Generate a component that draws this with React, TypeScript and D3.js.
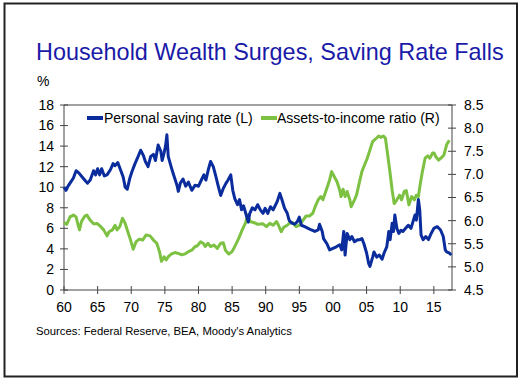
import React from "react";
import * as d3 from "d3";

const TITLE = "Household Wealth Surges, Saving Rate Falls";
const SOURCE = "Sources: Federal Reserve, BEA, Moody's Analytics";

const xTickYears = [1960, 1965, 1970, 1975, 1980, 1985, 1990, 1995, 2000, 2005, 2010, 2015];
const xTickLabels = ["60", "65", "70", "75", "80", "85", "90", "95", "00", "05", "10", "15"];
const leftTicks = [0, 2, 4, 6, 8, 10, 12, 14, 16, 18];
const rightTicks = [4.5, 5.0, 5.5, 6.0, 6.5, 7.0, 7.5, 8.0, 8.5];

const savingYears = [
  1960.0, 1960.3, 1960.6, 1960.9, 1961.4, 1961.8, 1962.2, 1962.7, 1963.2, 1963.5, 1963.9, 1964.4, 1964.7,
  1965.0, 1965.3, 1965.6, 1966.0, 1966.4, 1966.9, 1967.3, 1967.6, 1968.0, 1968.4, 1968.8, 1969.1, 1969.4,
  1969.8, 1970.1, 1970.5, 1970.9, 1971.4, 1971.8, 1972.1, 1972.5, 1972.9, 1973.3, 1973.6, 1974.0, 1974.4,
  1974.6, 1974.9, 1975.1, 1975.3, 1975.5, 1975.8, 1976.2, 1976.8, 1977.0, 1977.3, 1977.7, 1978.1, 1978.5,
  1979.0, 1979.5, 1980.0, 1980.5, 1980.8, 1981.1, 1981.5, 1981.8, 1982.2, 1982.6, 1982.9, 1983.3, 1983.7,
  1984.1, 1984.4, 1984.8, 1985.1, 1985.4, 1985.8, 1986.1, 1986.4, 1986.7, 1987.1, 1987.4, 1987.6, 1988.0,
  1988.4, 1988.8, 1989.2, 1989.6, 1989.9, 1990.3, 1990.7, 1991.1, 1991.4, 1991.7, 1992.1, 1992.4, 1992.8,
  1993.2, 1993.5, 1993.9, 1994.3, 1994.7, 1995.0, 1995.3, 1995.8, 1996.3, 1996.8, 1997.3, 1997.8, 1998.0,
  1998.4, 1998.6, 1999.1, 1999.5, 2000.0, 2000.5, 2001.0, 2001.3, 2001.6, 2001.8, 2002.1, 2002.5, 2002.8,
  2003.2, 2003.7, 2004.0, 2004.3, 2004.6, 2005.0, 2005.3, 2005.5, 2005.9, 2006.1, 2006.5, 2006.9, 2007.3,
  2007.6, 2008.0, 2008.3, 2008.5, 2008.8, 2009.0, 2009.2, 2009.5, 2009.8, 2010.1, 2010.4, 2010.8, 2011.2,
  2011.6, 2011.9, 2012.2, 2012.4, 2012.7, 2012.9, 2013.1, 2013.4, 2013.8, 2014.2, 2014.6, 2015.0, 2015.5,
  2016.0, 2016.4, 2016.7, 2016.9, 2017.3, 2017.6,
];
const savingRate = [
  10.0, 9.7, 10.1, 10.4, 10.9, 11.6, 11.4, 11.0, 10.6, 10.4, 10.7, 11.6, 11.2,
  11.8, 11.2, 11.8, 11.1, 11.2, 11.7, 12.3, 12.1, 12.4, 11.7, 11.0, 10.0, 9.8,
  10.9, 11.5, 12.2, 12.8, 13.6, 13.1, 12.5, 12.0, 13.0, 13.2, 12.6, 14.1, 13.5,
  12.6, 13.4, 14.0, 15.1, 13.0, 12.3, 11.4, 10.2, 9.6, 10.4, 10.8, 10.1, 10.5,
  9.7, 10.2, 10.1, 10.8, 11.2, 10.7, 11.8, 12.5, 12.0, 11.0, 10.2, 9.2, 9.9,
  10.4, 10.7, 11.2, 9.7, 8.9, 8.3, 8.8, 7.8, 8.2, 7.3, 6.6, 7.4, 8.0,
  7.8, 8.3, 7.8, 7.46, 7.95, 7.46, 8.1, 7.8, 8.2, 8.6, 9.4, 8.8, 7.95,
  7.46, 6.75, 6.5, 6.4, 6.65, 7.1, 6.3, 6.16, 6.0, 5.84, 5.7, 5.84, 6.4,
  5.7, 5.0, 4.5, 3.9, 4.05, 4.2, 4.4, 3.9, 5.7, 3.4, 5.5, 4.9, 5.2,
  4.7, 4.9, 4.9, 5.0, 4.5, 3.6, 2.6, 2.3, 3.2, 3.7, 3.2, 3.4, 3.0,
  3.6, 4.2, 5.7, 4.9, 6.5, 5.7, 7.3, 6.0, 5.5, 5.8, 5.7, 6.0, 6.3,
  6.0, 6.65, 7.3, 6.8, 8.8, 7.8, 5.35, 4.9, 5.2, 4.9, 5.5, 6.0, 6.16,
  5.84, 5.2, 3.9, 3.7, 3.6, 3.4,
];

const assetYears = [
  1960.0, 1960.4, 1960.9, 1961.4, 1961.8, 1962.1, 1962.3, 1962.6, 1963.1, 1963.4, 1963.9, 1964.4, 1964.9,
  1965.4, 1965.9, 1966.4, 1966.7, 1967.2, 1967.6, 1967.9, 1968.3, 1968.7, 1969.1, 1969.4, 1969.9, 1970.3,
  1970.7, 1971.2, 1971.7, 1972.2, 1972.8, 1973.3, 1973.8, 1974.2, 1974.5, 1974.9, 1975.2, 1975.5, 1976.0,
  1976.5, 1977.0, 1977.5, 1978.0, 1978.5, 1979.0, 1979.5, 1979.8, 1980.3, 1980.7, 1981.0, 1981.4, 1981.8,
  1982.3, 1982.8, 1983.3, 1983.7, 1984.0, 1984.5, 1985.0, 1985.5, 1986.0, 1986.5, 1987.0, 1987.3, 1987.7,
  1988.4, 1988.8, 1989.6, 1990.1, 1990.6, 1991.1, 1991.6, 1991.9, 1992.3, 1992.7, 1993.2, 1993.5, 1994.0,
  1994.5, 1995.0, 1995.5, 1996.0, 1996.5, 1997.0, 1997.4, 1997.8, 1998.2, 1998.5, 1999.0, 1999.5, 1999.8,
  2000.2, 2000.6, 2001.0, 2001.2, 2001.5, 2001.8, 2002.1, 2002.5, 2002.7, 2003.2, 2003.5, 2003.9, 2004.3,
  2004.6, 2005.1, 2005.5, 2005.9, 2006.3, 2006.8, 2007.1, 2007.5, 2007.8, 2008.1, 2008.5, 2008.8, 2009.1,
  2009.5, 2009.9, 2010.2, 2010.6, 2010.9, 2011.3, 2011.7, 2012.1, 2012.4, 2012.7, 2013.0, 2013.3, 2013.7,
  2014.1, 2014.4, 2014.8, 2015.05, 2015.3, 2015.7, 2016.2, 2016.5, 2016.9, 2017.3,
];
const assetRatio = [
  5.96, 5.92, 6.08, 6.12, 6.08, 5.9, 5.8, 5.98, 6.1, 6.12, 6.01, 5.93, 5.94,
  5.88, 5.8, 5.67, 5.76, 5.8, 5.9, 5.8, 5.87, 6.05, 5.94, 5.8, 5.58, 5.38,
  5.54, 5.6, 5.58, 5.69, 5.67, 5.58, 5.51, 5.33, 5.12, 5.22, 5.15, 5.22, 5.28,
  5.31, 5.29, 5.26, 5.28, 5.33, 5.36, 5.44, 5.45, 5.54, 5.51, 5.44, 5.51, 5.44,
  5.47, 5.4, 5.51, 5.52, 5.36, 5.28, 5.33, 5.47, 5.62, 5.8, 5.95, 6.12, 5.98,
  5.95, 5.92, 5.93, 5.87, 5.94, 5.9, 5.98, 5.9, 5.76, 5.86, 5.9, 5.94, 5.96,
  5.87, 5.9, 6.0, 6.1, 6.1, 6.16, 6.32, 6.45, 6.52, 6.45, 6.66, 6.88, 7.06,
  6.95, 6.84, 6.66, 6.52, 6.68, 6.52, 6.63, 6.45, 6.3, 6.45, 6.55, 6.81, 7.06,
  7.17, 7.35, 7.53, 7.71, 7.76, 7.83, 7.8, 7.83, 7.78, 7.46, 7.02, 6.66, 6.37,
  6.45, 6.55, 6.45, 6.63, 6.65, 6.34, 6.52, 6.45, 6.55, 6.52, 6.81, 7.06, 7.35,
  7.4, 7.35, 7.46, 7.46, 7.38, 7.31, 7.37, 7.42, 7.64, 7.74,
];

const BLUE = "#0a2c9c";
const GREEN = "#7cc142";
const AXIS = "#444";
const FONT = "Liberation Sans, Arial, sans-serif";

export default function App() {
  const left = 64, right = 452, top = 105, bottom = 290;
  const x = d3.scaleLinear().domain([1960, 2017.7]).range([left, right]);
  const yL = d3.scaleLinear().domain([0, 18]).range([bottom, top]);
  const yR = d3.scaleLinear().domain([4.5, 8.5]).range([bottom, top]);

  const saving = savingYears.map((yr, i) => [yr, savingRate[i]] as [number, number]);
  const assets = assetYears.map((yr, i) => [yr, assetRatio[i]] as [number, number]);
  const lineL = d3.line<[number, number]>().x((d) => x(d[0])).y((d) => yL(d[1]));
  const lineR = d3.line<[number, number]>().x((d) => x(d[0])).y((d) => yR(d[1]));

  return (
    <svg width={524} height={384} style={{ position: "absolute", left: 0, top: 0, background: "#fff" }} fontFamily={FONT}>
      <rect x={0} y={0} width={524} height={384} fill="#fff" />
      <rect x={4.5} y={3.5} width={512.5} height={373} fill="none" stroke="#222" strokeWidth={2} />
      <text x={36} y={60} fontSize={23.4} fill="#1a1aa8">{TITLE}</text>
      <text x={37} y={86} fontSize={14} fill="#000">%</text>

      <line x1={left} x2={right} y1={top} y2={top} stroke={AXIS} strokeWidth={1} />
      <line x1={left} x2={right} y1={bottom} y2={bottom} stroke={AXIS} strokeWidth={1} />
      <line x1={left} x2={left} y1={top} y2={bottom} stroke={AXIS} strokeWidth={1} />
      <line x1={right} x2={right} y1={top} y2={bottom} stroke={AXIS} strokeWidth={1} />

      {leftTicks.map((t) => (
        <g key={"l" + t}>
          <line x1={left - 4} x2={left + 4} y1={yL(t)} y2={yL(t)} stroke={AXIS} />
          <text x={54} y={yL(t)} dy="0.35em" textAnchor="end" fontSize={14} fill="#000">{t}</text>
        </g>
      ))}
      {rightTicks.map((t) => (
        <g key={"r" + t}>
          <line x1={right - 4} x2={right + 4} y1={yR(t)} y2={yR(t)} stroke={AXIS} />
          <text x={464} y={yR(t)} dy="0.35em" fontSize={14} fill="#000">{t.toFixed(1)}</text>
        </g>
      ))}
      {xTickYears.map((t, i) => (
        <g key={"x" + t}>
          <line x1={x(t)} x2={x(t)} y1={bottom - 4} y2={bottom + 4} stroke={AXIS} />
          <text x={x(t)} y={311.5} textAnchor="middle" fontSize={14} fill="#000">{xTickLabels[i]}</text>
        </g>
      ))}

      <path d={lineR(assets) || ""} fill="none" stroke={GREEN} strokeWidth={3} strokeLinejoin="round" />
      <path d={lineL(saving) || ""} fill="none" stroke={BLUE} strokeWidth={3} strokeLinejoin="round" />

      <line x1={87} x2={103} y1={118} y2={118} stroke={BLUE} strokeWidth={4} />
      <text x={104} y={118} dy="0.35em" fontSize={14} fill="#000">Personal saving rate (L)</text>
      <line x1={261} x2={277} y1={118} y2={118} stroke={GREEN} strokeWidth={4} />
      <text x={277} y={118} dy="0.35em" fontSize={14} fill="#000">Assets-to-income ratio (R)</text>

      <text x={36} y={335} fontSize={11.3} fill="#000">{SOURCE}</text>
    </svg>
  );
}
